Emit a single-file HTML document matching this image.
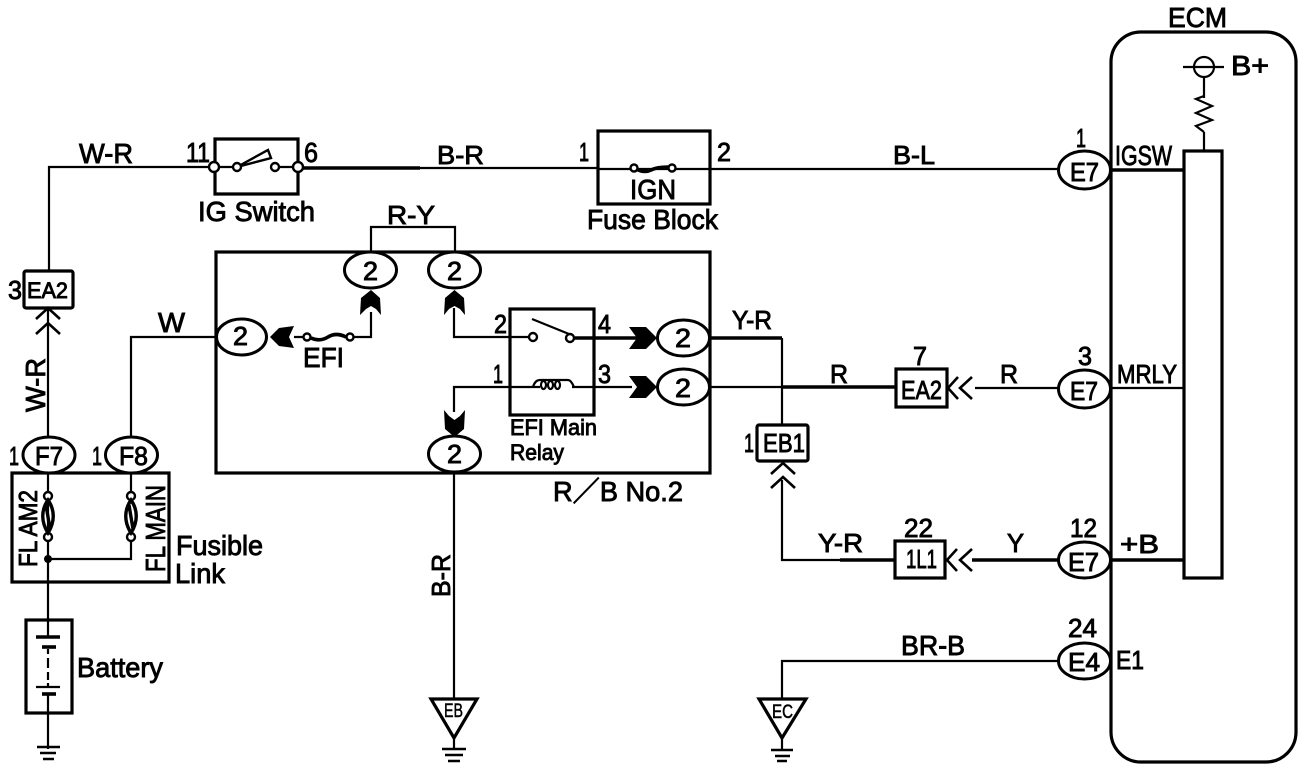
<!DOCTYPE html>
<html><head><meta charset="utf-8"><style>
html,body{margin:0;padding:0;background:#fff;width:1312px;height:768px;overflow:hidden}
svg{display:block}
text{font-family:"Liberation Sans","Noto Sans CJK JP",sans-serif;fill:#000;stroke:#000;stroke-width:.9;font-size:28px}
.s{font-size:22px}
.m{font-size:26px}
.x{font-size:19px;stroke-width:.5}
.l{fill:none;stroke:#000;stroke-width:2.2}
.t{fill:none;stroke:#000;stroke-width:3.6}
.b{fill:none;stroke:#000;stroke-width:3.2}
.c{fill:#fff;stroke:#000;stroke-width:2.4}
.e{fill:#fff;stroke:#000;stroke-width:3}
</style></head><body>
<svg width="1312" height="768" viewBox="0 0 1312 768" xmlns="http://www.w3.org/2000/svg">
<!-- wires -->
<g class="l">
<path d="M214 167H49V271"/>
<path d="M48 308V438"/>
<path d="M298 168H598M598 169H1058"/>
<path d="M131 437V337H217"/>
<path d="M294 337H304M354 337H371V312"/>
<path d="M454 308V337H528"/>
<path d="M454 412V387H540M572 387H632"/>
<path d="M454 472V699"/>
<path d="M710 387H896"/>
<path d="M782 338V425M782 480V560H895"/>
<path d="M782 699V661H1058"/>
<path d="M975 388H1058M1111 388H1184"/>
<path d="M371 252V227H455V252"/>
<path d="M48 473V637M48 694V749"/>
<path d="M48 559H131V541M131 473V492"/>
<path d="M1204 78V98M1204 132V151"/>
</g>
<g class="t">
<path d="M298 168H420"/>
<path d="M575 338H640"/>
<path d="M710 338H782"/>
<path d="M782 387H896"/>
<path d="M895 560H840"/>
<path d="M972 560H1058"/>
<path d="M1111 170H1184M1111 560H1184"/>
</g>
<!-- boxes -->
<g class="b">
<rect x="216" y="252" width="494" height="221"/>
<rect x="12" y="473" width="157" height="109"/>
<rect x="26" y="620" width="46" height="93"/>
<path d="M215 167V139H298V194H215V167"/>
<rect x="598" y="131" width="112" height="73"/>
<rect x="510" y="309" width="84" height="106"/>
<rect x="1111" y="32" width="185" height="730" rx="30" ry="30"/>
<rect x="1184" y="151" width="38" height="427"/>
<rect x="24" y="271" width="49" height="37" rx="2"/>
<rect x="757" y="425" width="51" height="36" rx="2"/>
<rect x="896" y="369" width="51" height="38"/>
<rect x="895" y="541" width="50" height="37"/>
<path d="M431 699H477L454 738ZM759 699H806L782 738Z" fill="#fff"/>
</g>
<path class="l" d="M454 738V749M782 738V750"/>
<!-- grounds -->
<g class="l">
<path d="M37 747H60M40 753H56" stroke-width="2.5"/><path d="M43 759H54" stroke-width="2.5"/>
<path d="M442 749H466M445 755H463M448 761H460" stroke-width="2.5"/>
<path d="M771 750H793M775 756H790M777 761H787" stroke-width="2.5"/>
</g>
<!-- battery -->
<path d="M36 637H60" class="t"/>
<path d="M42 647H56" class="t"/>
<path d="M48 649V654M48 658V668M48 672V680M48 683V687" class="l"/>
<path d="M36 687H60" class="l"/>
<path d="M42 694H56" class="t"/>
<!-- ellipses -->
<g class="e">
<ellipse cx="49" cy="455" rx="26" ry="18"/>
<ellipse cx="131.500" cy="455" rx="26" ry="18"/>
<ellipse cx="241.500" cy="337" rx="25" ry="18"/>
<ellipse cx="370.500" cy="270" rx="26" ry="18"/>
<ellipse cx="454.500" cy="270" rx="26" ry="18"/>
<ellipse cx="454.500" cy="454" rx="26" ry="18"/>
<ellipse cx="683.500" cy="338" rx="26" ry="18"/>
<ellipse cx="683.500" cy="387" rx="26" ry="18"/>
<ellipse cx="1084.500" cy="170" rx="26" ry="19"/>
<ellipse cx="1084.500" cy="389" rx="26" ry="19"/>
<ellipse cx="1084.500" cy="560" rx="26" ry="18"/>
<ellipse cx="1084.500" cy="661" rx="26" ry="18"/>
</g>
<!-- chevrons -->
<g class="l" stroke-width="2.6">
<path d="M36 319L48 308L60 319M36 334L48 323L60 334" stroke-width="2.6"/>
<path d="M771 474L783 463L795 474M771 488L783 477L795 488" stroke-width="2.6"/>
<path d="M958 377L948 388L958 399M972 377L960 388L972 399" stroke-width="2.6"/>
<path d="M957 549L947 560L957 571M972 549L960 560L972 571" stroke-width="2.6"/>
</g>
<!-- black arrows -->
<path d="M270 337L279 328L294 326L289 337L294 348L279 346Z"/>
<path d="M371 290L380 298L381 315L376 309L371 306L366 309L360 315L361 298Z"/>
<path d="M454.500 290L464 298L465 315L460 309L454.500 306L449 309L444 315L445 298Z"/>
<path d="M454.500 437L464 429L465 410L460 416L454.500 420L449 416L444 410L445 429Z"/>
<path d="M657 338L646 327H629L637 338L629 349H646Z"/>
<path d="M657 387L646 376H629L637 387L629 398H646Z"/>
<!-- switch -->
<path d="M237 167L268 150L271 158L237 167Z" class="c" fill="#fff"/>
<path d="M219 167H232M280 167H293" class="l"/>
<g class="c">
<circle cx="214" cy="167" r="5"/><circle cx="298" cy="167" r="5"/>
<circle cx="237" cy="167" r="4"/><circle cx="275" cy="167" r="4"/>
</g>
<!-- fuses -->
<path d="M638 170Q645 173 651 170T668 167" class="t" stroke-width="3"/>
<path d="M311 338Q320 342 328 337T346 337" class="t" stroke-width="3"/>
<g class="c">
<circle cx="634" cy="168" r="3.500"/><circle cx="672" cy="168" r="3.500"/>
<circle cx="307" cy="337" r="3.500"/><circle cx="350" cy="337" r="3.500"/>
<circle cx="48" cy="496" r="4"/><circle cx="48" cy="537" r="4"/>
<circle cx="131" cy="496" r="4"/><circle cx="131" cy="537" r="4"/>
</g>
<circle cx="48" cy="559" r="4"/>
<path d="M48 500C41 510 41 522 48 533C55 522 55 510 48 500ZM46 505L50 529M131 500C124 510 124 522 131 533C138 522 138 510 131 500ZM129 505L133 529" fill="none" stroke="#000" stroke-width="3.400"/>
<!-- relay -->
<path d="M532 319L569 334" class="l"/>
<circle cx="533" cy="337" r="4" class="c"/><circle cx="570" cy="338" r="4" class="c"/>
<path d="M533 387Q535 380 540 380H568Q571 380 574 387" class="l"/>
<path d="M541 385a2.500 4 0 1 0 5 0a2.500 4 0 1 0 -5 0M548 385a2.500 4 0 1 0 5 0a2.500 4 0 1 0 -5 0M555 385a2.500 4 0 1 0 5 0a2.500 4 0 1 0 -5 0" class="l"/>
<!-- ECM B+ -->
<circle cx="1204" cy="67" r="10" class="l" stroke-width="2.500"/>
<path d="M1183 67H1224" class="l" stroke-width="2.500"/>
<path d="M1204 96L1196 99L1212 106L1196 113L1212 120L1196 126L1204 132" class="l" stroke-width="2.600"/>
<!-- labels -->
<text x="79" y="163" textLength="54" lengthAdjust="spacingAndGlyphs">W-R</text>
<text x="186" y="162" textLength="24" lengthAdjust="spacingAndGlyphs">11</text>
<text x="304" y="162" textLength="14" lengthAdjust="spacingAndGlyphs">6</text>
<text x="198" y="221" textLength="117" lengthAdjust="spacingAndGlyphs">IG Switch</text>
<text x="437" y="164" class="m" textLength="47" lengthAdjust="spacingAndGlyphs">B-R</text>
<text x="579" y="161" class="m" textLength="10" lengthAdjust="spacingAndGlyphs">1</text>
<text x="717" y="161" class="m" textLength="14" lengthAdjust="spacingAndGlyphs">2</text>
<text x="630" y="199" textLength="46" lengthAdjust="spacingAndGlyphs">IGN</text>
<text x="587" y="229" textLength="131" lengthAdjust="spacingAndGlyphs">Fuse Block</text>
<text x="893" y="164" class="m" textLength="42" lengthAdjust="spacingAndGlyphs">B-L</text>
<text x="1076" y="147" class="m" textLength="10" lengthAdjust="spacingAndGlyphs">1</text>
<text x="1115" y="165" textLength="57" lengthAdjust="spacingAndGlyphs">IGSW</text>
<text x="1168" y="27" textLength="59" lengthAdjust="spacingAndGlyphs">ECM</text>
<text x="1231" y="75" textLength="38" lengthAdjust="spacingAndGlyphs">B+</text>
<text x="1070" y="181" class="m" textLength="29" lengthAdjust="spacingAndGlyphs">E7</text>
<text x="27" y="298" class="s" textLength="41" lengthAdjust="spacingAndGlyphs">EA2</text>
<text x="8" y="299" class="m" textLength="14" lengthAdjust="spacingAndGlyphs">3</text>
<text x="158" y="332" textLength="27" lengthAdjust="spacingAndGlyphs">W</text>
<text transform="translate(45 412) rotate(-90)" textLength="54" lengthAdjust="spacingAndGlyphs">W-R</text>
<text x="9" y="465" class="m" textLength="10" lengthAdjust="spacingAndGlyphs">1</text>
<text x="92" y="465" class="m" textLength="10" lengthAdjust="spacingAndGlyphs">1</text>
<text x="35" y="465" class="m" textLength="28" lengthAdjust="spacingAndGlyphs">F7</text>
<text x="119" y="465" class="m" textLength="29" lengthAdjust="spacingAndGlyphs">F8</text>
<text transform="translate(37 567) rotate(-90)" class="m" textLength="77" lengthAdjust="spacingAndGlyphs">FL AM2</text>
<text transform="translate(165 572) rotate(-90)" textLength="87" lengthAdjust="spacingAndGlyphs">FL MAIN</text>
<text x="176" y="555" textLength="87" lengthAdjust="spacingAndGlyphs">Fusible</text>
<text x="175" y="583" textLength="50" lengthAdjust="spacingAndGlyphs">Link</text>
<text x="77" y="677" textLength="86" lengthAdjust="spacingAndGlyphs">Battery</text>
<text x="233" y="345" class="m" textLength="15" lengthAdjust="spacingAndGlyphs">2</text>
<text x="363" y="280" class="m" textLength="15" lengthAdjust="spacingAndGlyphs">2</text>
<text x="447" y="280" class="m" textLength="15" lengthAdjust="spacingAndGlyphs">2</text>
<text x="447" y="463" class="m" textLength="15" lengthAdjust="spacingAndGlyphs">2</text>
<text x="675" y="347" class="m" textLength="16" lengthAdjust="spacingAndGlyphs">2</text>
<text x="675" y="397" class="m" textLength="16" lengthAdjust="spacingAndGlyphs">2</text>
<text x="387" y="224" class="m" textLength="48" lengthAdjust="spacingAndGlyphs">R-Y</text>
<text x="303" y="367" textLength="41" lengthAdjust="spacingAndGlyphs">EFI</text>
<text x="494" y="333" class="m" textLength="13" lengthAdjust="spacingAndGlyphs">2</text>
<text x="598" y="333" class="m" textLength="13" lengthAdjust="spacingAndGlyphs">4</text>
<text x="493" y="383" class="m" textLength="10" lengthAdjust="spacingAndGlyphs">1</text>
<text x="598" y="383" class="m" textLength="13" lengthAdjust="spacingAndGlyphs">3</text>
<text x="510" y="435" class="s" textLength="87" lengthAdjust="spacingAndGlyphs">EFI Main</text>
<text x="510" y="460" class="s" textLength="54" lengthAdjust="spacingAndGlyphs">Relay</text>
<text x="553" y="501" textLength="130" lengthAdjust="spacingAndGlyphs">R／B No.2</text>
<text x="732" y="329" class="m" textLength="40" lengthAdjust="spacingAndGlyphs">Y-R</text>
<text x="830" y="383" class="m" textLength="18" lengthAdjust="spacingAndGlyphs">R</text>
<text x="1000" y="383" class="m" textLength="18" lengthAdjust="spacingAndGlyphs">R</text>
<text x="913" y="365" class="m" textLength="14" lengthAdjust="spacingAndGlyphs">7</text>
<text x="1078" y="365" class="m" textLength="14" lengthAdjust="spacingAndGlyphs">3</text>
<text x="1117" y="383" class="m" textLength="60" lengthAdjust="spacingAndGlyphs">MRLY</text>
<text x="901" y="399" class="m" textLength="41" lengthAdjust="spacingAndGlyphs">EA2</text>
<text x="1070" y="400" class="m" textLength="28" lengthAdjust="spacingAndGlyphs">E7</text>
<text x="763" y="452" class="m" textLength="42" lengthAdjust="spacingAndGlyphs">EB1</text>
<text x="744" y="452" class="m" textLength="10" lengthAdjust="spacingAndGlyphs">1</text>
<text x="818" y="552" class="m" textLength="45" lengthAdjust="spacingAndGlyphs">Y-R</text>
<text x="904" y="537" class="m" textLength="29" lengthAdjust="spacingAndGlyphs">22</text>
<text x="906" y="568" class="m" textLength="31" lengthAdjust="spacingAndGlyphs">1L1</text>
<text x="1007" y="552" class="m" textLength="17" lengthAdjust="spacingAndGlyphs">Y</text>
<text x="1070" y="537" class="m" textLength="27" lengthAdjust="spacingAndGlyphs">12</text>
<text x="1068" y="571" class="m" textLength="31" lengthAdjust="spacingAndGlyphs">E7</text>
<text x="1120" y="553" class="m" textLength="39" lengthAdjust="spacingAndGlyphs">+B</text>
<text x="901" y="655" textLength="64" lengthAdjust="spacingAndGlyphs">BR-B</text>
<text x="1068" y="637" class="m" textLength="29" lengthAdjust="spacingAndGlyphs">24</text>
<text x="1068" y="671" class="m" textLength="32" lengthAdjust="spacingAndGlyphs">E4</text>
<text x="1116" y="669" class="m" textLength="28" lengthAdjust="spacingAndGlyphs">E1</text>
<text x="772" y="718" class="x" textLength="21" lengthAdjust="spacingAndGlyphs">EC</text>
<text x="444" y="717" class="x" textLength="19" lengthAdjust="spacingAndGlyphs">EB</text>
<text transform="translate(450 597) rotate(-90)" class="m" textLength="43" lengthAdjust="spacingAndGlyphs">B-R</text>
</svg>
</body></html>
